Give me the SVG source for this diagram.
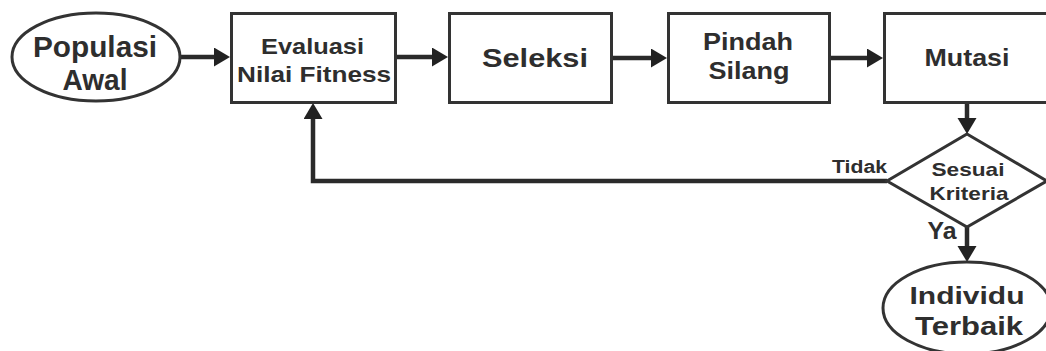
<svg xmlns="http://www.w3.org/2000/svg" width="1046" height="351" viewBox="0 0 1046 351">
<style>
.shape{fill:#fff;stroke:#333;stroke-width:3}
.t{font-family:"Liberation Sans",Arial,sans-serif;font-weight:bold;fill:#2e2e2e;text-anchor:middle}
.c{fill:none;stroke:#2a2a2a;stroke-width:4.5}
</style>
<defs>
<marker id="arr" markerUnits="userSpaceOnUse" markerWidth="18" markerHeight="20" refX="6" refY="9.5" orient="auto">
<path d="M0,0 L16,9.5 L0,19 z" fill="#222"/>
</marker>
</defs>
<rect width="1046" height="351" fill="#fff"/>
<g id="connectors">
<path class="c" d="M180,57 H220" marker-end="url(#arr)"/>
<path class="c" d="M396,57 H438" marker-end="url(#arr)"/>
<path class="c" d="M613,58 H657" marker-end="url(#arr)"/>
<path class="c" d="M831,58 H873" marker-end="url(#arr)"/>
<path class="c" d="M967,103 V124" marker-end="url(#arr)"/>
<path class="c" d="M887,181 H313 V113" marker-end="url(#arr)"/>
<path class="c" d="M967,227 V252" marker-end="url(#arr)"/>
</g>
<g id="populasi-awal">
<ellipse class="shape" cx="96" cy="57" rx="84" ry="44"/>
<text class="t" x="95" y="57" font-size="29" textLength="124" lengthAdjust="spacingAndGlyphs">Populasi</text>
<text class="t" x="95" y="90" font-size="29" textLength="65" lengthAdjust="spacingAndGlyphs">Awal</text>
</g>
<g id="evaluasi">
<rect class="shape" x="231.5" y="13.5" width="164" height="89"/>
<text class="t" x="312.5" y="54" font-size="22" textLength="103" lengthAdjust="spacingAndGlyphs">Evaluasi</text>
<text class="t" x="314" y="82" font-size="22" textLength="154" lengthAdjust="spacingAndGlyphs">Nilai Fitness</text>
</g>
<g id="seleksi">
<rect class="shape" x="449.5" y="13.5" width="162" height="89"/>
<text class="t" x="535" y="67" font-size="25" textLength="106" lengthAdjust="spacingAndGlyphs">Seleksi</text>
</g>
<g id="pindah-silang">
<rect class="shape" x="668.5" y="13.5" width="161" height="89"/>
<text class="t" x="748" y="50" font-size="23" textLength="90" lengthAdjust="spacingAndGlyphs">Pindah</text>
<text class="t" x="749" y="79" font-size="23" textLength="81" lengthAdjust="spacingAndGlyphs">Silang</text>
</g>
<g id="mutasi">
<rect class="shape" x="884.5" y="13.5" width="164" height="89"/>
<text class="t" x="967" y="66" font-size="24" textLength="85" lengthAdjust="spacingAndGlyphs">Mutasi</text>
</g>
<g id="sesuai-kriteria">
<polygon class="shape" points="967,134 1047,181 967,227 887,181"/>
<text class="t" x="968" y="176" font-size="19" textLength="73" lengthAdjust="spacingAndGlyphs">Sesuai</text>
<text class="t" x="969" y="200" font-size="19" textLength="79" lengthAdjust="spacingAndGlyphs">Kriteria</text>
</g>
<text class="t" x="859.5" y="173" font-size="18" textLength="55" lengthAdjust="spacingAndGlyphs">Tidak</text>
<text class="t" x="942" y="239" font-size="23" textLength="29" lengthAdjust="spacingAndGlyphs">Ya</text>
<g id="individu-terbaik">
<ellipse class="shape" cx="967" cy="308" rx="84" ry="46"/>
<text class="t" x="967" y="304" font-size="24" textLength="115" lengthAdjust="spacingAndGlyphs">Individu</text>
<text class="t" x="969" y="335" font-size="26" textLength="108" lengthAdjust="spacingAndGlyphs">Terbaik</text>
</g>
</svg>
